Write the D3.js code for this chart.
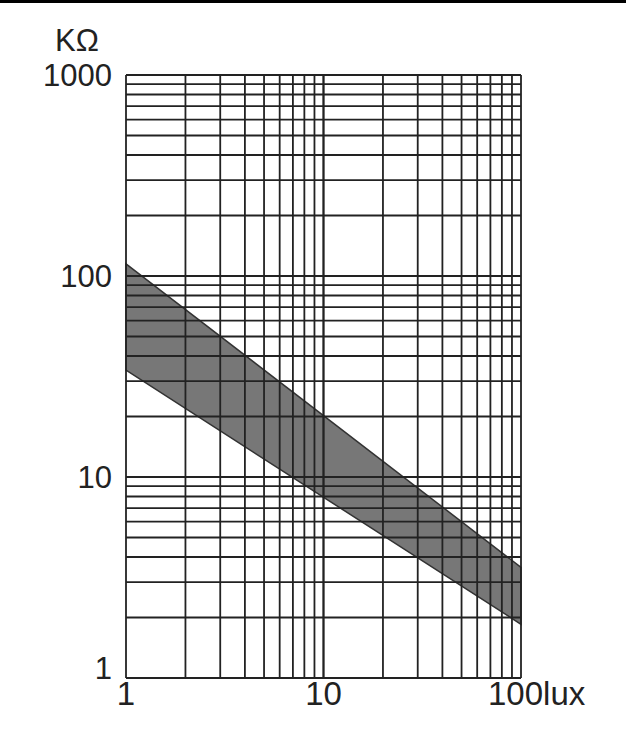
<!DOCTYPE html>
<html>
<head>
<meta charset="utf-8">
<script src="https://cdn.jsdelivr.net/npm/d3@7"></script>
<style>
  body { margin: 0; background: #fff; }
  text { font-family: "Liberation Sans", Arial, sans-serif; fill: #222; }
</style>
</head>
<body>
<script>
'use strict';

// data
var luxTicks = [1, 10, 100];
var ohmTicks = [1, 10, 100, 1000];
var bandLux = [1, 100];
var bandUpper = [115, 3.55];   // KΩ, top edge of the band
var bandLower = [34, 1.85];    // KΩ, bottom edge of the band

// general setup
var width = 626, height = 740;
var plot = { left: 126, right: 521, top: 75, bottom: 678 };

var svg = d3.select('body').append('svg')
  .attr('width', width).attr('height', height);

// top rule
svg.append('line')
  .attr('x1', 0).attr('x2', width).attr('y1', 1.5).attr('y2', 1.5)
  .attr('stroke', '#000').attr('stroke-width', 3);

var xScale = d3.scaleLog().domain([1, 100]).range([plot.left, plot.right]);
var yScale = d3.scaleLog().domain([1, 1000]).range([plot.bottom, plot.top]);

// band
var bandPoly = bandLux.map(function (d, i) { return [xScale(d), yScale(bandUpper[i])]; })
  .concat(bandLux.slice().reverse().map(function (d, i) {
    return [xScale(d), yScale(bandLower[bandLux.length - 1 - i])];
  }));

svg.append('path')
  .attr('d', 'M' + bandPoly.join('L') + 'Z')
  .attr('fill', '#777')
  .attr('stroke', '#333')
  .attr('stroke-width', 1.5);

// grid
var xGrid = [], yGrid = [];
[1, 10].forEach(function (dec) {
  for (var k = 1; k <= 10; k++) xGrid.push(dec * k);
});
[1, 10, 100].forEach(function (dec) {
  for (var k = 1; k <= 10; k++) yGrid.push(dec * k);
});

svg.append('g').selectAll('line').data(xGrid).enter().append('line')
  .attr('x1', function (d) { return xScale(d); })
  .attr('x2', function (d) { return xScale(d); })
  .attr('y1', plot.top).attr('y2', plot.bottom)
  .attr('stroke', '#222').attr('stroke-width', 1.8);

svg.append('g').selectAll('line').data(yGrid).enter().append('line')
  .attr('y1', function (d) { return yScale(d); })
  .attr('y2', function (d) { return yScale(d); })
  .attr('x1', plot.left).attr('x2', plot.right)
  .attr('stroke', '#222').attr('stroke-width', 1.8);

// y labels
svg.append('g').selectAll('text').data(ohmTicks).enter().append('text')
  .attr('x', plot.left - 14)
  .attr('y', function (d) { return yScale(d) + (d === 1 ? -10 : 0); })
  .attr('dy', '0.36em')
  .attr('text-anchor', 'end')
  .style('font-size', '31px')
  .text(function (d) { return d; });

svg.append('text')
  .attr('x', 55).attr('y', 51)
  .style('font-size', '31px')
  .text('KΩ');

// x labels
svg.append('g').selectAll('text').data(luxTicks).enter().append('text')
  .attr('x', function (d) { return d === 100 ? xScale(d) - 33 : xScale(d); })
  .attr('y', 705)
  .attr('text-anchor', function (d) { return d === 100 ? 'start' : 'middle'; })
  .style('font-size', '33px')
  .text(function (d) { return d === 100 ? '100lux' : d; });
</script>
</body>
</html>
